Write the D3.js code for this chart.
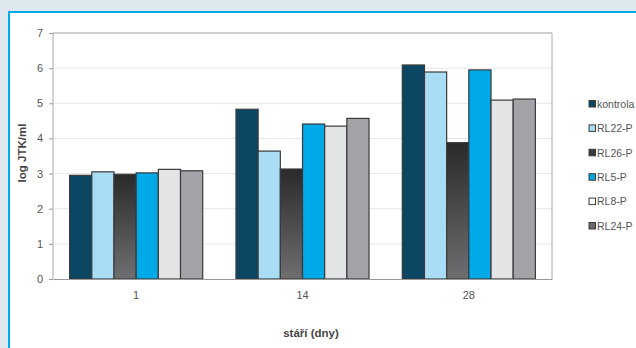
<!DOCTYPE html>
<html><head><meta charset="utf-8">
<script src="https://cdn.jsdelivr.net/npm/d3@7"></script>
<style>body{margin:0;background:#dde8ef;}svg{display:block;}</style>
</head><body>
<script>
const categories = ["1", "14", "28"];
const seriesNames = ["kontrola", "RL22-P", "RL26-P", "RL5-P", "RL8-P", "RL24-P"];
const kontrola = [2.95, 4.83, 6.09];
const rl22 = [3.05, 3.64, 5.89];
const rl26 = [2.98, 3.13, 3.88];
const rl5 = [3.02, 4.41, 5.95];
const rl8 = [3.12, 4.35, 5.09];
const rl24 = [3.08, 4.57, 5.12];
const yTicks = [0, 1, 2, 3, 4, 5, 6, 7];
const seriesValues = [kontrola, rl22, rl26, rl5, rl8, rl24];
const colors = ["#0b4763", "#a9ddf6", "url(#g26)", "#00a9e8", "#e3e4e6", "#a3a4a8"];
const legendColors = ["#0b4763", "#a9ddf6", "#3a3a3a", "#00a9e8", "#ffffff", "#6a6a6a"];

const W = 636, H = 348;
const FONT = "Liberation Sans, Arial, sans-serif";
const svg = d3.select("body").append("svg").attr("width", W).attr("height", H);
const defs = svg.append("defs");
const g = defs.append("linearGradient").attr("id", "g26").attr("x1", 0).attr("y1", 0).attr("x2", 0).attr("y2", 1);
g.append("stop").attr("offset", "0%").attr("stop-color", "#2a2a2a");
g.append("stop").attr("offset", "100%").attr("stop-color", "#6f6f71");

// panel
svg.append("rect").attr("x", 8).attr("y", 11).attr("width", W - 8).attr("height", H - 11).attr("fill", "#fff");
svg.append("rect").attr("x", 8).attr("y", 11).attr("width", W - 8).attr("height", 2).attr("fill", "#00a9e8");
svg.append("rect").attr("x", 8).attr("y", 11).attr("width", 2).attr("height", H - 11).attr("fill", "#00a9e8");

const pL = 53, pR = 552, pT = 33, pB = 279;
const x = d3.scaleBand().domain(categories).range([pL, pR]).paddingInner(0).paddingOuter(0);
const y = d3.scaleLinear().domain([0, 7]).range([pB, pT]);
const bw = x.bandwidth() / 7.5;

// gridlines
svg.append("g").selectAll("line").data(yTicks.slice(1)).join("line")
  .attr("x1", pL).attr("x2", pR).attr("y1", d => y(d)).attr("y2", d => y(d))
  .attr("stroke", "#e6e6e6").attr("stroke-width", 1);

// y axis
const ya = svg.append("g").attr("transform", `translate(${pL},0)`)
  .call(d3.axisLeft(y).tickValues(yTicks).tickFormat(d3.format("d")).tickSize(4).tickPadding(6));
ya.select(".domain").remove();
ya.selectAll("line").attr("stroke", "#999");
ya.selectAll("text").attr("font-family", FONT).attr("font-size", 11).attr("fill", "#555");

// bars
seriesValues.forEach((vals, si) => {
  svg.append("g").selectAll("rect").data(vals).join("rect")
    .attr("x", (d, i) => x(categories[i]) + bw * 0.75 + si * bw)
    .attr("y", d => y(d))
    .attr("width", bw)
    .attr("height", d => y(0) - y(d))
    .attr("fill", colors[si])
    .attr("stroke", "#3a3a3a").attr("stroke-width", 1.2);
});

// plot frame
svg.append("path").attr("d", `M${pL},${pB}V${pT}H${pR}V${pB}`).attr("fill", "none").attr("stroke", "#aaa").attr("stroke-width", 1);
// x axis
const xa = svg.append("g").attr("transform", `translate(0,${pB})`)
  .call(d3.axisBottom(x).tickSize(0).tickPadding(12));
xa.select(".domain").attr("stroke", "#999");
xa.selectAll("text").attr("font-family", FONT).attr("font-size", 11).attr("fill", "#555");

// axis titles
svg.append("text").attr("transform", "translate(26,153) rotate(-90)").attr("text-anchor", "middle")
  .attr("font-family", FONT).attr("font-size", 11.5).attr("font-weight", "bold").attr("fill", "#444")
  .text("log JTK/ml");
svg.append("text").attr("x", 311).attr("y", 337).attr("text-anchor", "middle")
  .attr("font-family", FONT).attr("font-size", 11.5).attr("font-weight", "bold").attr("fill", "#444")
  .text("stáří (dny)");

// legend
const lg = svg.append("g").selectAll("g").data(seriesNames).join("g")
  .attr("transform", (d, i) => `translate(589,${104 + i * 24.4})`);
lg.append("rect").attr("x", 0).attr("y", -3.5).attr("width", 6.5).attr("height", 6.5)
  .attr("fill", (d, i) => legendColors[i]).attr("stroke", "#3a3a3a").attr("stroke-width", 1);
lg.append("text").attr("x", 8).attr("y", 3.8).attr("font-family", FONT)
  .attr("font-size", 10.5).attr("fill", "#555").text(d => d);
</script>
</body></html>
